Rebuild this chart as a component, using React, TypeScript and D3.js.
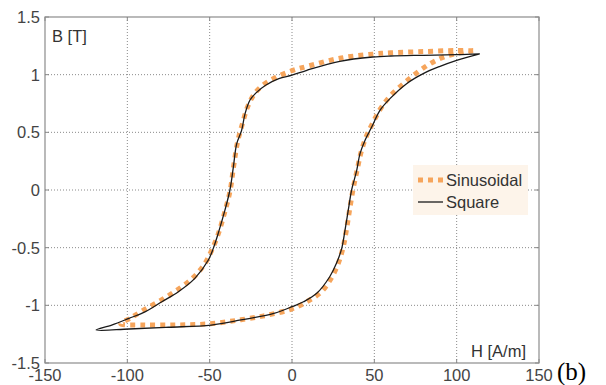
import React from "react";
import * as d3 from "d3";

const xTicks = [-150, -100, -50, 0, 50, 100, 150];
const yTicks = [-1.5, -1, -0.5, 0, 0.5, 1, 1.5];
const yTickLabels = ["-1.5", "-1", "-0.5", "0", "0.5", "1", "1.5"];

// Square excitation loop (H [A/m], B [T])
const squareH = [114, 100, 80, 60, 49, 29, 9, 0, -8, -16, -22, -25.5, -28.5, -30.6, -33.6, -35.6, -37.7, -40.7, -44.8, -47.8, -50.8, -59, -69, -79, -89, -99, -109.5, -119,
  -99, -75, -49, -31, -11, 0, 7, 15, 23, 27, 30.2, 32.2, 34.2, 36.2, 39.3, 41.3, 44.3, 48.4, 53.4, 59.5, 69.6, 79.7, 89.9, 100, 114];
const squareB = [1.18, 1.173, 1.168, 1.162, 1.153, 1.116, 1.038, 0.995, 0.965, 0.908, 0.84, 0.78, 0.662, 0.517, 0.4, 0.2, 0.0, -0.173, -0.376, -0.506, -0.607, -0.766, -0.882, -0.969, -1.055, -1.113, -1.171, -1.214,
  -1.205, -1.19, -1.171, -1.127, -1.07, -1.012, -0.969, -0.896, -0.75, -0.636, -0.506, -0.347, -0.173, 0, 0.17, 0.315, 0.43, 0.546, 0.69, 0.792, 0.922, 1.009, 1.072, 1.124, 1.18];

// Sinusoidal excitation loop
const sinH = [110, 100, 80, 60, 49, 30, 10, 0, -10, -18, -23, -27, -30, -33, -35.5, -37.5, -41, -45, -49, -53, -60, -70, -80, -90, -98, -104,
  -90, -70, -50, -31, -15, 0, 10, 18, 24, 28, 31, 33, 35, 37, 39.5, 42, 45, 49, 54, 60, 70, 80, 90, 100, 110];
const sinB = [1.207, 1.21, 1.2, 1.19, 1.178, 1.145, 1.075, 1.035, 0.975, 0.905, 0.83, 0.72, 0.58, 0.42, 0.2, 0.0, -0.2, -0.39, -0.53, -0.64, -0.76, -0.87, -0.96, -1.04, -1.11, -1.16,
  -1.17, -1.17, -1.16, -1.125, -1.085, -1.03, -0.96, -0.88, -0.76, -0.64, -0.5, -0.35, -0.17, 0, 0.17, 0.33, 0.46, 0.58, 0.71, 0.82, 0.95, 1.06, 1.14, 1.185, 1.207];

const W = 606, H = 385;
const left = 45, right = 539, top = 17, bottom = 363;
const FONT = "Liberation Sans, Arial, sans-serif";
const ORANGE = "#f6a55c";

export default function App() {
  const x = d3.scaleLinear().domain([-150, 150]).range([left, right]);
  const y = d3.scaleLinear().domain([-1.5, 1.5]).range([bottom, top]);
  const line = d3.line<[number, number]>().x((d) => x(d[0])).y((d) => y(d[1])).curve(d3.curveCatmullRom.alpha(0.5));
  const sq: [number, number][] = squareH.map((h, i) => [h, squareB[i]]);
  const sn: [number, number][] = sinH.map((h, i) => [h, sinB[i]]);
  return (
    <svg width={W} height={H} style={{ position: "absolute", left: 0, top: 0, background: "#fff" }}>
      <rect x={0} y={0} width={W} height={H} fill="#fff" />
      {xTicks.slice(1, -1).map((t) => (
        <line key={"gx" + t} x1={x(t)} x2={x(t)} y1={top} y2={bottom} stroke="#8a8a8a" strokeWidth={1} strokeDasharray="1,2" />
      ))}
      {yTicks.slice(1, -1).map((t) => (
        <line key={"gy" + t} x1={left} x2={right} y1={y(t)} y2={y(t)} stroke="#8a8a8a" strokeWidth={1} strokeDasharray="1,2" />
      ))}
      {yTicks.map((t) => (
        <g key={"ty" + t}>
          <line x1={left} x2={left + 4} y1={y(t)} y2={y(t)} stroke="#888" />
          <line x1={right - 4} x2={right} y1={y(t)} y2={y(t)} stroke="#888" />
        </g>
      ))}
      {xTicks.map((t) => (
        <g key={"tx" + t}>
          <line x1={x(t)} x2={x(t)} y1={bottom} y2={bottom - 4} stroke="#888" />
          <line x1={x(t)} x2={x(t)} y1={top} y2={top + 4} stroke="#888" />
        </g>
      ))}
      <rect x={left} y={top} width={right - left} height={bottom - top} fill="none" stroke="#8c8c8c" strokeWidth={1.2} />
      <path d={line(sn) || ""} fill="none" stroke={ORANGE} strokeWidth={5} strokeDasharray="5,5" />
      <path d={line(sq) || ""} fill="none" stroke="#1a1a1a" strokeWidth={1.3} strokeLinejoin="round" />
      {yTicks.map((t, i) => (
        <text key={"ly" + t} x={40} y={y(t) + 6} textAnchor="end" fontFamily={FONT} fontSize={16.5} fill="#444">
          {yTickLabels[i]}
        </text>
      ))}
      {xTicks.map((t) => (
        <text key={"lx" + t} x={x(t)} y={381} textAnchor="middle" fontFamily={FONT} fontSize={16.5} fill="#444">
          {String(t)}
        </text>
      ))}
      <text x={52} y={42} fontFamily={FONT} fontSize={16.5} fill="#333">B [T]</text>
      <text x={526} y={357} textAnchor="end" fontFamily={FONT} fontSize={16.5} fill="#333">H [A/m]</text>
      <rect x={413} y={165} width={115} height={50} fill="#fdf4ea" />
      <line x1={418} x2={445} y1={180} y2={180} stroke={ORANGE} strokeWidth={5} strokeDasharray="5,5" />
      <line x1={418} x2={443} y1={202} y2={202} stroke="#1a1a1a" strokeWidth={1.3} />
      <text x={446} y={185.5} fontFamily={FONT} fontSize={16.5} fill="#333">Sinusoidal</text>
      <text x={446} y={208} fontFamily={FONT} fontSize={16.5} fill="#333">Square</text>
      <text x={557} y={380} fontFamily="Liberation Serif, Times New Roman, serif" fontSize={25} fill="#000">(b)</text>
    </svg>
  );
}
